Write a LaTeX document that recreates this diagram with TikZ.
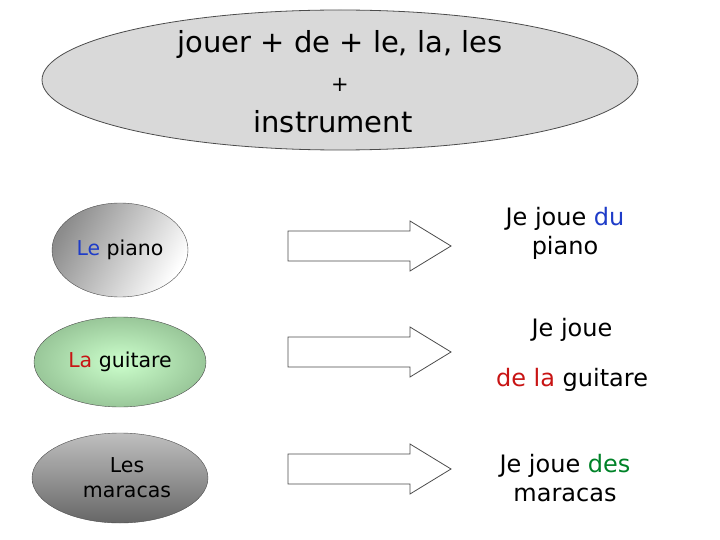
\documentclass[tikz,border=0pt]{standalone}
\usepackage{fontspec}
\setmainfont{DejaVu Sans}
\usetikzlibrary{shapes.geometric}
\definecolor{myblue}{RGB}{30,60,200}
\definecolor{myred}{RGB}{200,20,20}
\definecolor{mygreen}{RGB}{0,130,40}
\tikzset{
  blockarrow/.style={draw=black!70, fill=white, line width=0.8pt},
  txt/.style={font=\fontsize{24}{29}\selectfont, align=center, inner sep=0},
  lefttxt/.style={font=\fontsize{20.5}{25}\selectfont, align=center, inner sep=0}
}
\begin{document}
\begin{tikzpicture}[x=1pt,y=-1pt]
\useasboundingbox (0,0) rectangle (720,540);
% top ellipse
\draw[fill=black!15, draw=black!70, line width=0.8pt] (340,80) ellipse [x radius=298, y radius=70];
\node[txt, font=\fontsize{29}{34}\selectfont] (t1) at (340,45) {jouer + de + le, la, les};
\node[txt, font=\fontsize{21}{25}\selectfont] (t2) at (340,85) {+};
\node[txt, font=\fontsize{29}{34}\selectfont] (t3) at (333,122) {instrument};
% left ellipses
\shade[left color=black!45, right color=white, shading angle=60, draw=black!70] (120,250) ellipse [x radius=68, y radius=47];
\node[lefttxt] (l1) at (120,250) {\textcolor{myblue}{Le} piano};
\shade[outer color=green!45!black!40!white, inner color=green!20!white, draw=black!70] (120,362) ellipse [x radius=86, y radius=45];
\shade[left color=black!75, right color=black!60, top color=black!25, shading angle=0, draw=black!70] (120,478) ellipse [x radius=88, y radius=45];
\node[lefttxt] (l2) at (120,362) {\textcolor{myred}{La} guitare};
\node[lefttxt] (l3) at (127,478) {Les\\maracas};
% arrows
\foreach \y in {246,352,469}{
  \draw[blockarrow] (288,\y-15) -- (410,\y-15) -- (410,\y-25) -- (451,\y) -- (410,\y+25) -- (410,\y+15) -- (288,\y+15) -- cycle;
}
% right texts
\node[txt] (r1) at (565,233) {Je joue \textcolor{myblue}{du}\\piano};
\node[txt] (r2) at (572,330) {Je joue};
\node[txt] (r3) at (572,380) {\textcolor{myred}{de la} guitare};
\node[txt] (r4) at (565,478) {Je joue \textcolor{mygreen}{des}\\maracas};
\end{tikzpicture}
\end{document}
